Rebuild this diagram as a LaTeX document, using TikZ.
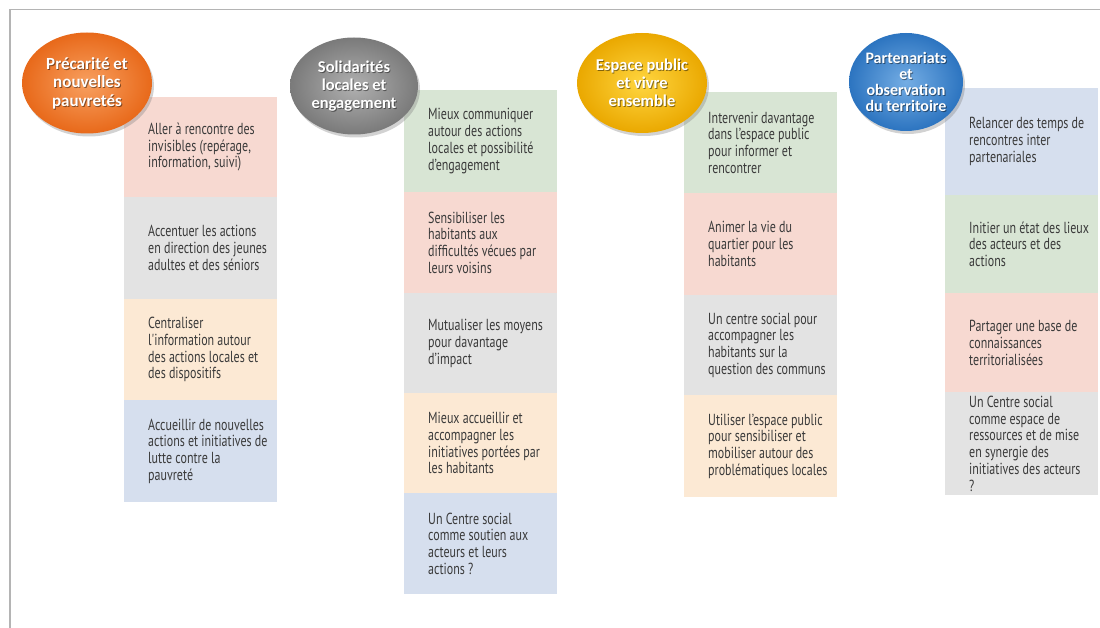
\documentclass[tikz,border=0pt]{standalone}
\usepackage{fontspec}
\usetikzlibrary{shadows,shapes.geometric}
\newfontfamily\boxfont[FakeStretch=0.75]{PT Sans}
\newfontfamily\ellfont{Carlito}
\definecolor{cpink}{HTML}{F7D9D1}
\definecolor{cgrey}{HTML}{E3E3E3}
\definecolor{cpeach}{HTML}{FCE9D4}
\definecolor{cblue}{HTML}{D6DFEE}
\definecolor{cgreen}{HTML}{D8E5D4}
\definecolor{txtgray}{HTML}{3A3A3A}
\definecolor{frame}{HTML}{B4B4B4}
\definecolor{orA}{HTML}{F8A060}
\definecolor{orB}{HTML}{E8691A}
\definecolor{grA}{HTML}{B0B0B0}
\definecolor{grB}{HTML}{7A7A7A}
\definecolor{goA}{HTML}{FFD640}
\definecolor{goB}{HTML}{EAA800}
\definecolor{blA}{HTML}{74ADE4}
\definecolor{blB}{HTML}{2C74C0}
\newcommand\cellbox[6]{%
  \node[cell, fill=#5, minimum height=#4pt] (#1) at (#2,#3) {};
  \node[celltext] (#1t) at ([xshift=24pt]#1.west) {#6};}
\newcommand\themeell[9]{%
  \node[theme, inner color=#6, outer color=#7, minimum width=#4pt, minimum height=#5pt] (#1) at (#2,#3) {};
  \node[themeshadow, font=\ellfont\bfseries\fontsize{#9}{#8}\selectfont] (#1s) at ([xshift=0.9pt,yshift=-0.9pt]#1.center) {\themetext};
  \node[themetext, font=\ellfont\bfseries\fontsize{#9}{#8}\selectfont] (#1t) at (#1.center) {\themetext};}
\begin{document}
\begin{tikzpicture}[x=1pt,y=-1pt,
  cell/.style={rectangle, draw=none, inner sep=0pt, minimum width=153pt, anchor=north west},
  celltext/.style={anchor=west, align=left, font=\boxfont\fontsize{16}{16.8}\selectfont, text=txtgray, inner sep=0pt},
  theme/.style={ellipse, draw=none, inner sep=0pt, drop shadow={opacity=0.35, shadow xshift=2pt, shadow yshift=-3pt}},
  themetext/.style={align=center, text=white, inner sep=0pt},
  themeshadow/.style={align=center, text=black, opacity=0.45, inner sep=0pt}]
\useasboundingbox (0,0) rectangle (1100,628);
\fill[white] (0,0) rectangle (1100,628);
\draw[frame, line width=1.2pt] (10,628) -- (10,9.5) -- (1100,9.5);

% column 1
\cellbox{a1}{124}{97}{100}{cpink}{Aller à rencontre des\\invisibles (repérage,\\information,  suivi)}
\cellbox{a2}{124}{197}{102}{cgrey}{Accentuer les actions\\en direction des jeunes\\adultes et des séniors}
\cellbox{a3}{124}{299}{101}{cpeach}{Centraliser\\l'information  autour\\des actions locales et\\des dispositifs}
\cellbox{a4}{124}{400}{102}{cblue}{Accueillir de nouvelles\\actions et initiatives  de\\lutte contre la\\pauvreté}

% column 2
\cellbox{b1}{404}{90}{102}{cgreen}{Mieux communiquer\\autour des actions\\locales et possibilité\\d’engagement}
\cellbox{b2}{404}{192}{101}{cpink}{Sensibiliser les\\habitants aux\\difficultés  vécues par\\leurs voisins}
\cellbox{b3}{404}{293}{100}{cgrey}{Mutualiser les moyens\\pour davantage\\d’impact}
\cellbox{b4}{404}{393}{100}{cpeach}{Mieux accueillir et\\accompagner les\\initiatives  portées par\\les habitants}
\cellbox{b5}{404}{493}{101}{cblue}{Un Centre social\\comme soutien aux\\acteurs et leurs\\actions ?}

% column 3
\cellbox{c1}{684}{92}{101}{cgreen}{Intervenir  davantage\\dans l’espace public\\pour informer  et\\rencontrer}
\cellbox{c2}{684}{193}{102}{cpink}{Animer la vie du\\quartier pour les\\habitants}
\cellbox{c3}{684}{295}{100}{cgrey}{Un centre social pour\\accompagner les\\habitants  sur la\\question des communs}
\cellbox{c4}{684}{395}{102}{cpeach}{Utiliser l’espace public\\pour sensibiliser et\\mobiliser autour des\\problématiques locales}

% column 4
\cellbox{d1}{945}{88}{107}{cblue}{Relancer des temps de\\rencontres inter\\partenariales}
\cellbox{d2}{945}{195}{98}{cgreen}{Initier  un état des lieux\\des acteurs et des\\actions}
\cellbox{d3}{945}{293}{99}{cpink}{Partager une base de\\connaissances\\territorialisées}
\cellbox{d4}{945}{392}{103}{cgrey}{Un Centre social\\comme espace de\\ressources et de mise\\en synergie  des\\initiatives   des acteurs\\?}

% themes
\def\themetext{Précarité et\\nouvelles\\pauvretés}
\themeell{e1}{87}{83}{130}{101}{orA}{orB}{18.5}{17}
\def\themetext{Solidarités\\locales et\\engagement}
\themeell{e2}{354}{86}{128}{97}{grA}{grB}{18}{16.5}
\def\themetext{Espace public\\et vivre\\ensemble}
\themeell{e3}{642}{83}{130}{100}{goA}{goB}{18}{16.5}
\def\themetext{Partenariats\\et\\observation\\du territoire}
\themeell{e4}{906}{82}{114}{98}{blA}{blB}{16}{16}
\end{tikzpicture}
\end{document}
